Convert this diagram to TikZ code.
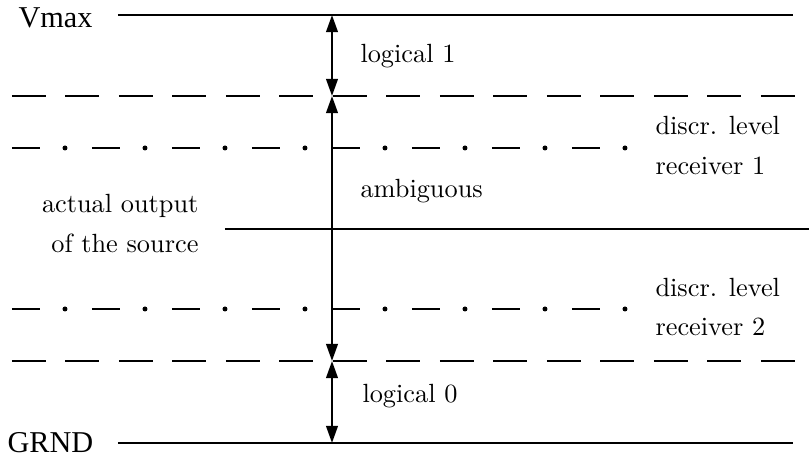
\documentclass[tikz,border=0pt]{standalone}
\usepackage{fontspec}
\newfontfamily\timesf{Liberation Serif}
\usetikzlibrary{arrows.meta}
\begin{document}
\begin{tikzpicture}[x=0.38pt,y=-0.38pt,
  solidlvl/.style={line width=1.05pt},
  dashlvl/.style={line width=0.85pt,dash pattern=on 12.92pt off 7.41pt},
  dashdotseg/.style={line width=0.85pt},
  dotmark/.style={fill=black,draw=none},
  rng/.style={line width=0.85pt,{Triangle[length=6.5pt,width=4.4pt]}-{Triangle[length=6.5pt,width=4.4pt]}},
  lbl/.style={inner sep=0pt,font=\fontsize{10}{12}\selectfont},
  rail/.style={inner sep=0pt,font=\timesf\fontsize{11.5}{13}\selectfont}]
\fill[white] (0,0) rectangle (809,459);
\useasboundingbox (0,0) rectangle (809,459);
% coordinates
\coordinate (vmaxL) at (118,15);  \coordinate (vmaxR) at (793,15);
\coordinate (gndL)  at (118,443); \coordinate (gndR)  at (793,443);
\coordinate (d1L) at (12,96);  \coordinate (d1R) at (795,96);
\coordinate (d2L) at (12,361); \coordinate (d2R) at (795,361);
\coordinate (midL) at (225,229); \coordinate (midR) at (809,229);
\coordinate (a0) at (332,15);
\coordinate (a1) at (332,96);
\coordinate (a2) at (332,361);
\coordinate (a3) at (332,443);
% solid levels
\draw[solidlvl] (vmaxL) -- (vmaxR);
\draw[solidlvl] (gndL) -- (gndR);
\draw[solidlvl] (midL) -- (midR);
% dashed levels
\draw[dashlvl] (d1L) -- (d1R);
\draw[dashlvl] (d2L) -- (d2R);
% dash-dot levels
\foreach \yy in {148,309}{
  \foreach \i in {0,...,7}{
    \draw[dashdotseg] ({12+80*\i},\yy) -- ({40+80*\i},\yy);
    \fill[dotmark] ({65+80*\i},\yy) circle (0.95pt);
  }
}
% ranges
\draw[rng] (a0) -- (a1);
\draw[rng] (a1) -- (a2);
\draw[rng] (a2) -- (a3);
% labels
\node[rail,anchor=base west] (vmax) at (18,28) {Vmax};
\node[rail,anchor=base west] (grnd) at (7,453) {GRND};
\node[lbl,anchor=base west] (l1) at (360,63) {logical 1};
\node[lbl,anchor=base west] (amb) at (360,198) {ambiguous};
\node[lbl,anchor=base west] (l0) at (362,403) {logical 0};
\node[lbl,anchor=base west] (dl1) at (655,135) {discr. level};
\node[lbl,anchor=base west] (r1) at (655,175) {receiver 1};
\node[lbl,anchor=base west] (dl2) at (655,297) {discr. level};
\node[lbl,anchor=base west] (r2) at (655,336) {receiver 2};
\node[lbl,anchor=base east] (ao) at (199,213) {actual output};
\node[lbl,anchor=base east] (os) at (199,253) {of the source};
\end{tikzpicture}
\end{document}
